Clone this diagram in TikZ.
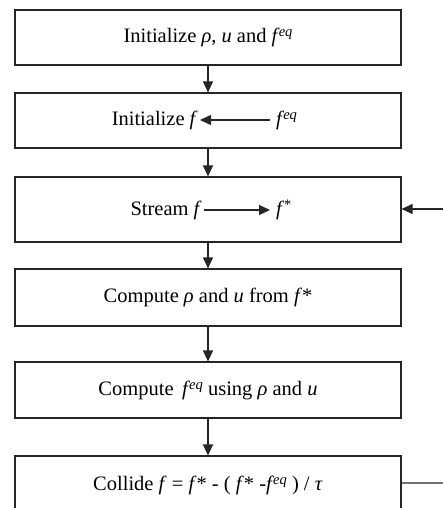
\documentclass[tikz,border=0pt]{standalone}
\usepackage{fontspec}
\setmainfont{Liberation Serif}
\usetikzlibrary{arrows.meta}
\newcommand\mysup[1]{\raisebox{0.6ex}{\fontsize{14.5}{14.5}\selectfont\itshape #1}}
\newcommand\iv[1]{\textit{#1}}
\tikzset{
  box/.style={draw=black!85, line width=1.2pt, minimum width=386pt, inner sep=0pt, font=\fontsize{20.5}{23}\selectfont},
  txt/.style={inner ysep=1pt, inner xsep=2pt, text height=15pt, text depth=5pt, font=\fontsize{20.5}{23}\selectfont},
  arr/.style={draw=black!85, line width=1.2pt, -{Triangle[length=11pt,width=10pt]}},
  gline/.style={draw=black!55, line width=1.2pt}
}
\begin{document}
\begin{tikzpicture}[x=1pt,y=-1pt]
\path[use as bounding box, clip] (0,0) rectangle (443,508);
\fill[white] (0,0) rectangle (443,508);
% boxes
\node[box, minimum height=55pt] (b1) at (208,37.5) {Initialize \iv{ρ}, \iv{u} and \iv{f}\kern-1pt\mysup{eq}};
\node[box, minimum height=55pt] (b2) at (208,120.5) {};
\node[box, minimum height=65pt] (b3) at (208,209.5) {};
\node[box, minimum height=57pt] (b4) at (208,297.5) {Compute \iv{ρ} and \iv{u} from \iv{f}*};
\node[box, minimum height=56pt] (b5) at (208,390) {Compute \,\iv{f}\kern-1pt\mysup{eq} using \iv{ρ} and \iv{u}};
\node[box, minimum height=58pt] (b6) at (208,485) {Collide \iv{f} = \iv{f}* - ( \iv{f}* -\iv{f}\kern-1pt\mysup{eq} ) / \iv{τ}};
% inner texts of box 2 and 3
\node[txt, anchor=east] (i2) at (200,120) {Initialize \iv{f}};
\node[txt, anchor=west, inner xsep=6pt] (e2) at (270,120) {\iv{f}\kern-1pt\mysup{eq}};
\draw[arr] (e2) -- (i2);
\node[txt, anchor=east] (s3) at (204,210) {Stream \iv{f}};
\node[txt, anchor=west, inner xsep=6pt] (e3) at (270,210) {\iv{f}\kern-1pt\mysup{*}};
\draw[arr] (s3) -- (e3);
% vertical arrows
\draw[arr] (b1) -- (b2);
\draw[arr] (b2) -- (b3);
\draw[arr] (b3) -- (b4);
\draw[arr] (b4) -- (b5);
\draw[arr] (b5) -- (b6);
% feedback
\coordinate (r6) at (443,483);
\coordinate (r3) at (443,209);
\draw[gline] (b6.east |- r6) -- (r6);
\draw[arr] (r3) -- (b3.east |- r3);
\end{tikzpicture}
\end{document}
